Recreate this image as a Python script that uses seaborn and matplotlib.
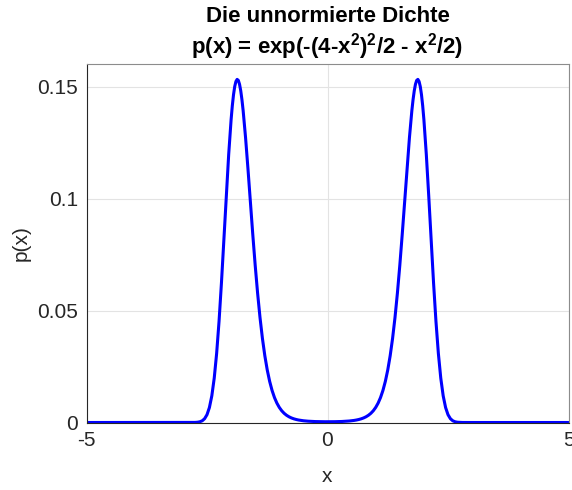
import numpy as np
import pandas as pd
import matplotlib
matplotlib.use("Agg")
import matplotlib.pyplot as plt
import seaborn as sns

# x >= 0 half of the (symmetric) curve
x_right = [
    0.0, 0.05, 0.1, 0.15, 0.2, 0.25, 0.3, 0.35, 0.4, 0.45, 0.5, 0.55, 0.6, 0.65,
    0.7, 0.75, 0.8, 0.85, 0.9, 0.95, 1.0, 1.05, 1.1, 1.15, 1.2, 1.25, 1.3, 1.35,
    1.4, 1.45, 1.5, 1.55, 1.6, 1.65, 1.7, 1.75, 1.775, 1.8, 1.825, 1.85, 1.875,
    1.9, 1.925, 1.95, 1.975, 2.0, 2.05, 2.1, 2.15, 2.2, 2.25, 2.3, 2.35, 2.4, 2.45,
    2.5, 2.55, 2.6, 2.65, 2.7, 2.75, 2.8, 2.85, 2.9, 2.95, 3.0, 3.5, 4.0, 4.5, 5.0,
]
p_right = [
    0.000335, 0.000338, 0.000347, 0.000362, 0.000385, 0.000416, 0.000457, 0.000511,
    0.000579, 0.000667, 0.000779, 0.000923, 0.001108, 0.001346, 0.001652, 0.002051,
    0.002568, 0.003240, 0.004115, 0.005256, 0.006738, 0.008660, 0.011142, 0.014325,
    0.018375, 0.023472, 0.029806, 0.037553, 0.046850, 0.057758, 0.070211, 0.083974,
    0.098592, 0.113353, 0.127320, 0.139359, 0.144275, 0.148258, 0.151171, 0.152896,
    0.153338, 0.152429, 0.150146, 0.146497, 0.141529, 0.135335, 0.119822, 0.101361,
    0.081675, 0.062488, 0.045243, 0.030898, 0.019837, 0.011929, 0.006696, 0.003496,
    0.001691, 0.000755, 0.000310, 0.000117, 0.0000400, 0.0000125, 0.0000035,
    0.0000009, 0.0000002, 0.0, 0.0, 0.0, 0.0, 0.0,
]
x_vals = [-v for v in x_right[::-1]] + x_right[1:]
p_vals = p_right[::-1] + p_right[1:]

x_ticks = [-5, 0, 5]
y_ticks = [0, 0.05, 0.1, 0.15]
y_tick_labels = ["0", "0.05", "0.1", "0.15"]

df = pd.DataFrame({"x": x_vals, "p": p_vals})

sns.set_theme(style="white")
plt.rcParams["font.family"] = ["Liberation Sans", "DejaVu Sans"]
plt.rcParams["mathtext.fontset"] = "custom"
plt.rcParams["mathtext.rm"] = "Liberation Sans:bold"
plt.rcParams["mathtext.bf"] = "Liberation Sans:bold"
plt.rcParams["mathtext.it"] = "Liberation Sans:bold"

fig = plt.figure(figsize=(5.72, 4.90), dpi=100)
ax = fig.add_axes([86.5 / 572, 1 - 422.5 / 490, (568.5 - 86.5) / 572, (422.5 - 64.5) / 490])

sns.lineplot(data=df, x="x", y="p", ax=ax, color=(0, 0, 1), linewidth=2.2, sort=False)

ax.set_xlim(-5, 5)
ax.set_ylim(0, 0.16)
ax.set_xticks(x_ticks)
ax.set_xticklabels([str(t) for t in x_ticks])
ax.set_yticks(y_ticks)
ax.set_yticklabels(y_tick_labels)
ax.grid(True, color="#e3e3e3", linewidth=0.8)
ax.set_axisbelow(True)
for side in ["left", "bottom"]:
    ax.spines[side].set_color("#262626")
for side in ["top", "right"]:
    ax.spines[side].set_color("#8c8c8c")
for s in ax.spines.values():
    s.set_linewidth(0.8)
ax.tick_params(direction="in", length=4, width=0.8, color="#262626",
               labelsize=15, labelcolor="#262626")
ax.tick_params(axis="x", pad=6)
ax.tick_params(axis="y", pad=6)
ax.set_xlabel("x", fontsize=15, color="#262626", labelpad=12)
ax.set_ylabel("p(x)", fontsize=15, color="#262626", labelpad=5)
ax.set_title("Die unnormierte Dichte\n"
             r"p(x) = exp(-(4-x$^{2}$)$^{2}$/2 - x$^{2}$/2)",
             fontsize=16, fontweight="bold", color="black", pad=8, linespacing=1.2)

fig.savefig("out.png", dpi=100)
